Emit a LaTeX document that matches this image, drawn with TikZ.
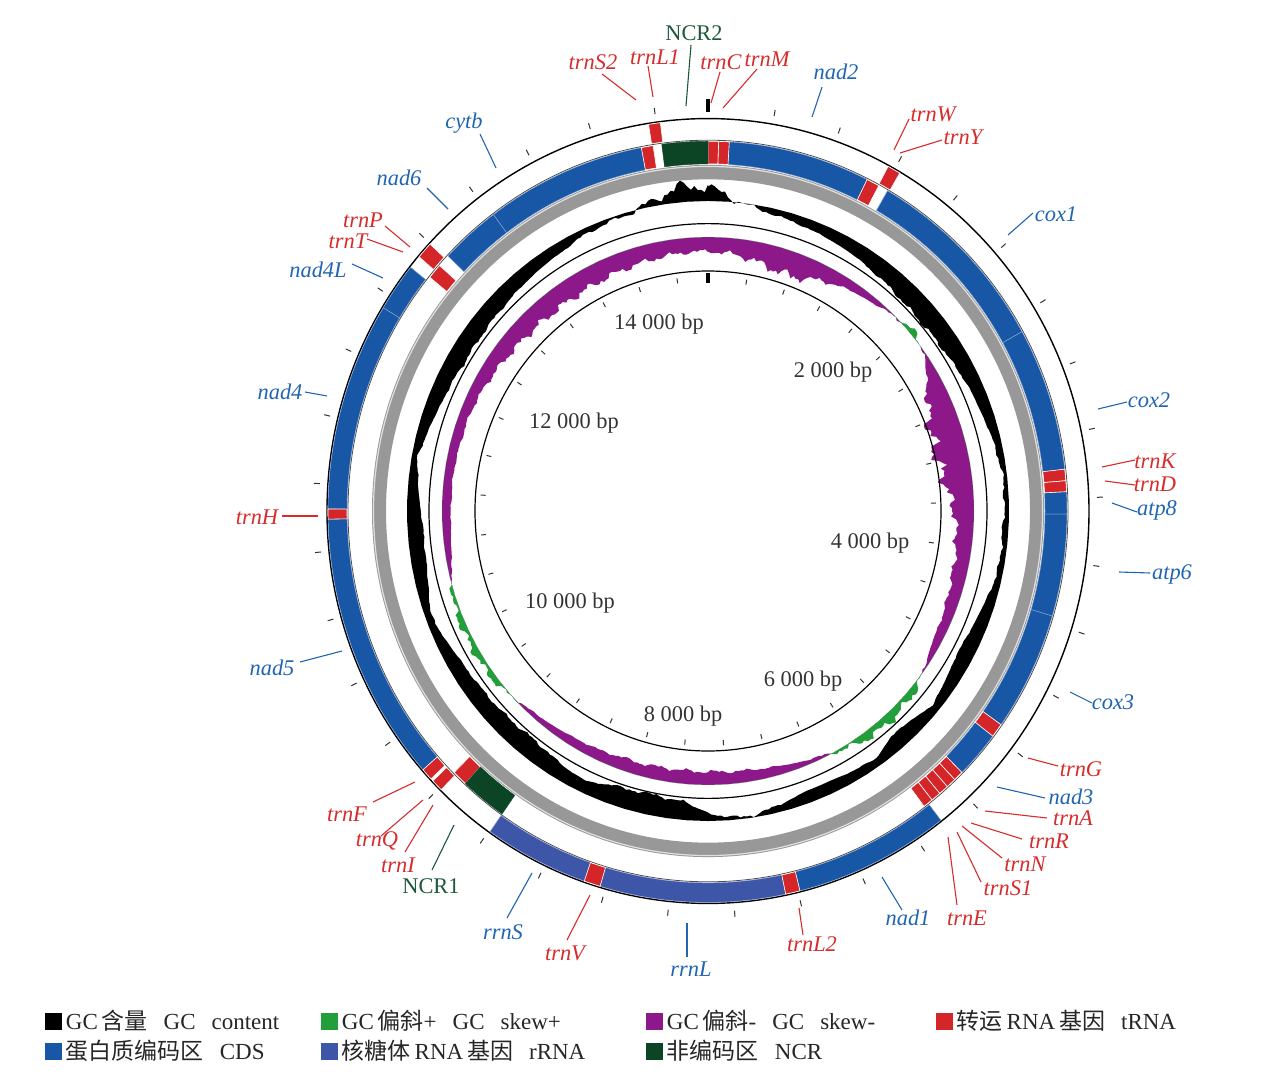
\documentclass[tikz,border=0pt]{standalone}
\usepackage{fontspec}
\setmainfont{Liberation Serif}
\newfontfamily\cjk{Noto Sans CJK SC}
\usetikzlibrary{positioning}

\definecolor{cdsblue}{RGB}{24,86,166}
\definecolor{rrnablue}{RGB}{62,86,168}
\definecolor{trnared}{RGB}{212,38,40}
\definecolor{ncrgreen}{RGB}{12,68,38}
\definecolor{skewpos}{RGB}{34,158,58}
\definecolor{skewneg}{RGB}{140,24,138}
\definecolor{labred}{RGB}{214,44,44}
\definecolor{labblue}{RGB}{32,100,178}
\definecolor{labgreen}{RGB}{28,88,58}
\definecolor{ringgray}{RGB}{152,152,152}

\tikzset{
  glab/.style={font=\fontsize{11.2}{13}\selectfont\itshape, inner sep=1pt},
  nlab/.style={font=\fontsize{11.2}{13}\selectfont, inner sep=1pt, text=labgreen},
  lead/.style={line width=0.55pt},
  bplab/.style={font=\fontsize{11.2}{13}\selectfont, text=black!80, inner sep=1pt},
  legbox/.style={minimum size=8.5pt, inner sep=0pt, outer sep=0pt},
  legtext/.style={font=\fontsize{11.5}{13}\selectfont, text=black!85, inner sep=0pt},
  tk/.style={line width=0.5pt, black!80},
  cdsseg/.style={fill=cdsblue, draw=cdsblue!55!white, line width=0.25pt},
  rrnaseg/.style={fill=rrnablue, draw=rrnablue!55!white, line width=0.25pt},
  trnaseg/.style={fill=trnared, draw=white, line width=0.3pt},
  ncrseg/.style={fill=ncrgreen, draw=ncrgreen, line width=0.2pt}
}

% ring piece: from, to (degrees clockwise from top), inner r, outer r, style
\newcommand{\ringseg}[5]{%
  \filldraw[#5] plot[domain=#1:#2, samples=24, variable=\p] ({\p-90}:#4)
    -- plot[domain=#2:#1, samples=24, variable=\p] ({\p-90}:#3) -- cycle;}

% GC content and GC skew, one value every 5 degrees (from 5 to 360)
\def\gclist{2,-4,-7,-9,-11,-13,-16,-18,-20,-20,
  -19,-17,-14,-12,-9,-6,-4,-5,-6,-5,
  -8,-12,-15,-16,-12,-8,-14,-16,-8,-10,
  -12,-12,-8,-3,-2,-8,-18,-20,-20,-18,
  -12,-14,-18,-19,-18,-17,-16,-14,-10,-6,
  -12,-15,-16,-14,-10,-6,-10,-14,-16,-18,
  -18,-17,-16,-14,-12,-10,-6,-4,-2,6,
  15,14}
\def\sklist{-15,-18,-22,-24,-18,-12,-8,-5,0,4,
  -2,-14,-24,-30,-32,-30,-26,-20,-17,-15,
  -14,-12,-10,-8,-2,5,7,8,6,2,
  -3,-6,-9,-11,-12,-13,-13,-13,-12,-12,
  -10,-9,-7,-5,-2,3,5,5,5,4,
  0,-6,-8,-9,-9,-9,-10,-10,-11,-13,
  -15,-17,-18,-19,-19,-19,-18,-17,-16,-15,
  -14,-14}

\begin{document}
\begin{tikzpicture}[x=0.5pt, y=-0.5pt,
  declare function={
    gnoise(\q)=sin(360*frac(\q/360*53))+0.6*sin(360*frac(\q/360*131)+17)
      +0.4*sin(360*frac(\q/360*257)+41);
  }]
\useasboundingbox (0,0) rectangle (1268,1075);

\begin{scope}[shift={(708,511)}, yscale=1.03]
% GC content
\fill[black] (-90:315)
  \foreach \v [remember=\v as \vp (initially 14), count=\i] in \gclist {
    \foreach \s in {1,...,8} {
      -- ({5*(\i-1)+0.625*\s-90}:{301+(\vp+(\v-\vp)*\s/8)*(1+0.15*gnoise(5*(\i-1)+0.625*\s))+1.8*gnoise(5*(\i-1)+0.625*\s)})
    }
  }
  -- plot[domain=360:0, samples=91, variable=\p] ({\p-90}:301) -- cycle;
% GC skew
\fill[skewneg] (-90:252)
  \foreach \v [remember=\v as \vp (initially -14), count=\i] in \sklist {
    \foreach \s in {1,...,8} {
      -- ({5*(\i-1)+0.625*\s-90}:{266+min(0,(\vp+(\v-\vp)*\s/8)*(1+0.2*gnoise(5*(\i-1)+0.625*\s))+1.3*gnoise(5*(\i-1)+0.625*\s))})
    }
  }
  -- plot[domain=360:0, samples=91, variable=\p] ({\p-90}:266) -- cycle;
\fill[skewpos] (-90:266)
  \foreach \v [remember=\v as \vp (initially -14), count=\i] in \sklist {
    \foreach \s in {1,...,8} {
      -- ({5*(\i-1)+0.625*\s-90}:{266+max(0,(\vp+(\v-\vp)*\s/8)*(1+0.2*gnoise(5*(\i-1)+0.625*\s))+1.3*gnoise(5*(\i-1)+0.625*\s))})
    }
  }
  -- plot[domain=360:0, samples=91, variable=\p] ({\p-90}:266) -- cycle;

% circles
\fill[ringgray, even odd rule] (0,0) circle[radius=336] circle[radius=322];
\draw[white!75!gray, line width=0.6pt] (0,0) circle[radius=334.5];
\draw[line width=0.7pt] (0,0) circle[radius=381];
\draw[black!70, line width=0.4pt] (0,0) circle[radius=360];
\draw[line width=0.6pt] (0,0) circle[radius=279];
\draw[line width=0.6pt] (0,0) circle[radius=233];

% inner strand
\foreach \a/\b in {3.4/26.3, 30/61, 61/83.5, 87/90.5, 90.5/106.5, 106.5/125.3,
  127.5/135, 313.6/323.3, 323.3/349.3}
  {\ringseg{\a}{\b}{337}{359}{cdsseg}}
\foreach \a/\b in {0/1.7, 1.7/3.4, 26.3/28.4, 83.5/85.3, 85.3/87, 125.3/127.5,
  135/136.6, 136.6/138.2, 138.2/139.8, 139.8/141.4, 141.4/143, 222.5/225,
  309.2/311.6, 349.3/351.2}
  {\ringseg{\a}{\b}{337}{359}{trnaseg}}
\foreach \a/\b in {352.6/360, 215/222.5}
  {\ringseg{\a}{\b}{337}{359}{ncrseg}}

% outer strand
\foreach \a/\b in {142.2/166, 228.6/268.8, 270.3/301.3, 301.3/308.5}
  {\ringseg{\a}{\b}{361}{380}{cdsseg}}
\foreach \a/\b in {168.2/196.5, 199/215}
  {\ringseg{\a}{\b}{361}{380}{rrnaseg}}
\foreach \a/\b in {351/352.8, 28.3/30.3, 166/168.2, 196.5/199, 224.6/226.4,
  226.8/228.6, 268.8/270.3, 310.5/313}
  {\ringseg{\a}{\b}{361}{380}{trnaseg}}

% ticks, one every 400 bp
\foreach \k in {1,...,36}{
  \draw[tk] ({\k*9.7826-90}:223) -- ({\k*9.7826-90}:228);
  \draw[tk] ({\k*9.7826-90}:389) -- ({\k*9.7826-90}:395);
}
\draw[line width=1.6pt] (-90:221) -- (-90:231);
\draw[line width=1.6pt] (-90:387) -- (-90:400);
\end{scope}

% scale labels
\node[bplab] (bp14) at (659,324) {14 000 bp};
\node[bplab] (bp2) at (833,372) {2 000 bp};
\node[bplab] (bp12) at (574,423) {12 000 bp};
\node[bplab] (bp4) at (870,543) {4 000 bp};
\node[bplab] (bp10) at (570,603) {10 000 bp};
\node[bplab] (bp6) at (803,681) {6 000 bp};
\node[bplab] (bp8) at (683,716) {8 000 bp};

% gene labels
\foreach \tx/\cl/\lx/\ly/\ax/\ay/\bx/\by in {
  nad2/labblue/836/72/822/87/812/117, trnS2/labred/593/62/602/74/636/100,
  trnL1/labred/655/57/648/66/653/97, trnC/labred/721/62/720/72/711/103,
  trnM/labred/767/59/757/69/723/108, trnW/labred/933/114/909/119/894/150,
  trnY/labred/963/137/942/140/900/153, cox1/labblue/1056/214/1033/213/1008/235,
  cox2/labblue/1149/400/1127/402/1098/409, trnK/labred/1155/461/1135/460/1102/467,
  trnD/labred/1155/484/1135/485/1105/481, atp8/labblue/1157/510/1137/512/1112/503,
  atp6/labblue/1172/574/1150/573/1119/572, cox3/labblue/1113/702/1092/703/1070/692,
  trnG/labred/1081/769/1058/766/1028/758, nad3/labblue/1071/797/1045/798/997/787,
  trnA/labred/1073/818/1047/818/985/811, trnR/labred/1049/841/1022/839/971/823,
  trnN/labred/1025/864/1002/858/962/826, trnS1/labred/1008/888/981/882/957/832,
  trnE/labred/967/918/957/905/948/837, nad1/labblue/908/918/902/910/882/877,
  trnL2/labred/812/944/803/935/799/908, rrnL/labblue/691/969/687/957/687/923,
  trnV/labred/565/953/567/940/590/895, rrnS/labblue/503/932/507/918/532/873,
  trnI/labred/398/865/405/852/433/805, trnQ/labred/377/841/381/836/423/800,
  trnF/labred/347/814/373/802/415/782, nad5/labblue/272/668/300/662/342/651,
  trnH/labred/257/517/282/516/318/516, nad4/labblue/280/392/305/392/327/396,
  nad4L/labblue/318/270/352/264/383/278, trnT/labred/348/241/367/239/403/252,
  trnP/labred/363/220/385/226/410/247, nad6/labblue/399/178/427/188/448/209,
  cytb/labblue/464/123/480/134/496/168}
{
  \node[glab, text=\cl] (\tx) at (\lx,\ly) {\tx};
  \coordinate (\tx-a) at (\ax,\ay);
  \coordinate (\tx-b) at (\bx,\by);
  \draw[lead, \cl] (\tx-a) -- (\tx-b);
}
\node[nlab] (ncr2) at (694,33) {NCR2};
\coordinate (ncr2-a) at (691,45);
\coordinate (ncr2-b) at (686,106);
\draw[lead, labgreen] (ncr2-a) -- (ncr2-b);
\node[nlab] (ncr1) at (431,886) {NCR1};
\coordinate (ncr1-a) at (432,870);
\coordinate (ncr1-b) at (454,825);
\draw[lead, labgreen] (ncr1-a) -- (ncr1-b);

% legend
\node[legbox, fill=black] (kgc) at (53,1021) {};
\node[legtext, right=2pt of kgc] (tgc) {GC\,{\cjk 含量}\hspace{8pt}GC\hspace{8pt}content};
\node[legbox, fill=skewpos] (kpos) at (329,1021) {};
\node[legtext, right=2pt of kpos] (tpos) {GC\,{\cjk 偏斜}+\hspace{8pt}GC\hspace{8pt}skew+};
\node[legbox, fill=skewneg] (kneg) at (654,1021) {};
\node[legtext, right=2pt of kneg] (tneg) {GC\,{\cjk 偏斜}-\hspace{8pt}GC\hspace{8pt}skew-};
\node[legbox, fill=trnared] (ktrna) at (944,1021) {};
\node[legtext, right=2pt of ktrna] (ttrna) {{\cjk 转运}\,RNA\,{\cjk 基因}\hspace{8pt}tRNA};
\node[legbox, fill=cdsblue] (kcds) at (53,1051) {};
\node[legtext, right=2pt of kcds] (tcds) {{\cjk 蛋白质编码区}\hspace{8pt}CDS};
\node[legbox, fill=rrnablue] (krrna) at (329,1051) {};
\node[legtext, right=2pt of krrna] (trrna) {{\cjk 核糖体}\,RNA\,{\cjk 基因}\hspace{8pt}rRNA};
\node[legbox, fill=ncrgreen] (kncr) at (654,1051) {};
\node[legtext, right=2pt of kncr] (tncr) {{\cjk 非编码区}\hspace{8pt}NCR};
\end{tikzpicture}
\end{document}
